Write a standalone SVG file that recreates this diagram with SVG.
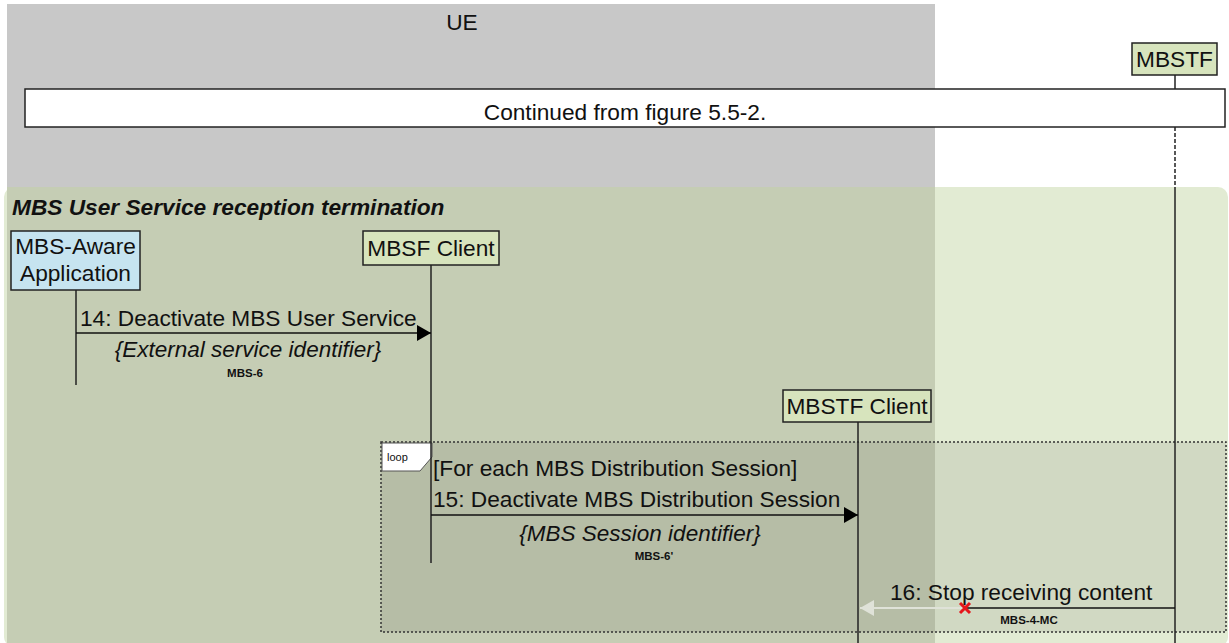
<svg xmlns="http://www.w3.org/2000/svg" width="1229" height="643" viewBox="0 0 1229 643">
<defs>
<style>
text{font-family:"Liberation Sans",Arial,sans-serif;fill:#111;}
.lbl{font-size:22.7px;}
.it{font-size:22.5px;font-style:italic;}
.sm{font-size:11.5px;font-weight:bold;}
.node{stroke:#222;stroke-width:1.5;}
.life{stroke:#222;stroke-width:1.5;fill:none;}
.msg{stroke:#111;stroke-width:1.5;fill:none;}
</style>
<marker id="arr" viewBox="0 0 14 16" refX="14" refY="8" markerWidth="14" markerHeight="16" markerUnits="userSpaceOnUse" orient="auto">
<path d="M0,0 L14,8 L0,16 Z" fill="#000"/>
</marker>
<marker id="arrl" viewBox="0 0 14 16" refX="14" refY="8" markerWidth="14" markerHeight="16" markerUnits="userSpaceOnUse" orient="auto">
<path d="M0,0 L14,8 L0,16 Z" fill="#dfe2d8"/>
</marker>
</defs>
<rect x="0" y="0" width="1229" height="643" fill="#fff"/>
<g id="ue">
<rect x="7" y="4" width="928" height="186" fill="#c8c8c8"/>
<text class="lbl" x="462" y="30" text-anchor="middle">UE</text>
</g>
<g id="termination">
<rect x="4" y="187" width="1224" height="460" rx="10" fill="#e2ebd3"/>
<rect x="7" y="187" width="928" height="456" fill="#c5cdb4"/>
<text x="12" y="215" font-size="22.7" font-weight="bold" font-style="italic">MBS User Service reception termination</text>
</g>
<g id="loop">
<rect x="381" y="442" width="845" height="190" fill="#000" fill-opacity="0.075" stroke="#333" stroke-width="1.5" stroke-dasharray="2,2"/>
<path d="M382,443 L432,443 L432,457 L420,471 L382,471 Z" fill="#fff" stroke="#555" stroke-width="1"/>
<text x="387" y="461" font-size="11" fill="#333">loop</text>
<text class="lbl" x="433" y="476">[For each MBS Distribution Session]</text>
</g>
<g id="continued">
<rect x="25" y="89" width="1200" height="38" fill="#fff" stroke="#222" stroke-width="1.5"/>
<text class="lbl" x="625" y="120" text-anchor="middle">Continued from figure 5.5-2.</text>
</g>
<g id="connectors">
<line class="life" x1="1175" y1="75" x2="1175" y2="89"/>
<line class="life" x1="1175" y1="127" x2="1175" y2="187" stroke-dasharray="4,2"/>
<line class="life" x1="1175" y1="187" x2="1175" y2="643"/>
<line class="life" x1="76" y1="290" x2="76" y2="385"/>
<line class="life" x1="431" y1="265" x2="431" y2="563"/>
<line class="life" x1="858" y1="422" x2="858" y2="643"/>
<line class="msg" x1="76" y1="333" x2="431" y2="333" marker-end="url(#arr)"/>
<line class="msg" x1="431" y1="515" x2="858" y2="515" marker-end="url(#arr)"/>
<line class="msg" x1="1175" y1="608" x2="965" y2="608"/>
<line x1="965" y1="608" x2="860" y2="608" stroke="#dfe2d8" stroke-width="2" marker-end="url(#arrl)"/>
<path d="M960,603 L970,613 M970,603 L960,613" stroke="#e5161b" stroke-width="3"/>
</g>
<g id="labels">
<text class="lbl" x="80" y="326">14: Deactivate MBS User Service</text>
<text class="it" x="248" y="357" text-anchor="middle">{External service identifier}</text>
<text class="sm" x="245" y="377" text-anchor="middle">MBS-6</text>
<text class="lbl" x="433" y="507">15: Deactivate MBS Distribution Session</text>
<text class="it" x="640" y="541" text-anchor="middle">{MBS Session identifier}</text>
<text class="sm" x="654" y="560" text-anchor="middle">MBS-6'</text>
<text class="lbl" x="890" y="600">16: Stop receiving content</text>
<text class="sm" x="1029" y="624" text-anchor="middle">MBS-4-MC</text>
</g>
<g id="mbstf">
<rect class="node" x="1132" y="43" width="85" height="32" fill="#d7e4bd"/>
<text class="lbl" x="1174.5" y="67" text-anchor="middle">MBSTF</text>
</g>
<g id="mbs-aware-app">
<rect class="node" x="11" y="231" width="129" height="59" fill="#c6e4f0"/>
<text class="lbl" x="75.5" y="254" text-anchor="middle">MBS-Aware</text>
<text class="lbl" x="75.5" y="281" text-anchor="middle">Application</text>
</g>
<g id="mbsf-client">
<rect class="node" x="363" y="231" width="136" height="34" fill="#d7e4bd"/>
<text class="lbl" x="431" y="256" text-anchor="middle">MBSF Client</text>
</g>
<g id="mbstf-client">
<rect class="node" x="783" y="390" width="148" height="32" fill="#d7e4bd"/>
<text class="lbl" x="857" y="414" text-anchor="middle">MBSTF Client</text>
</g>
</svg>
